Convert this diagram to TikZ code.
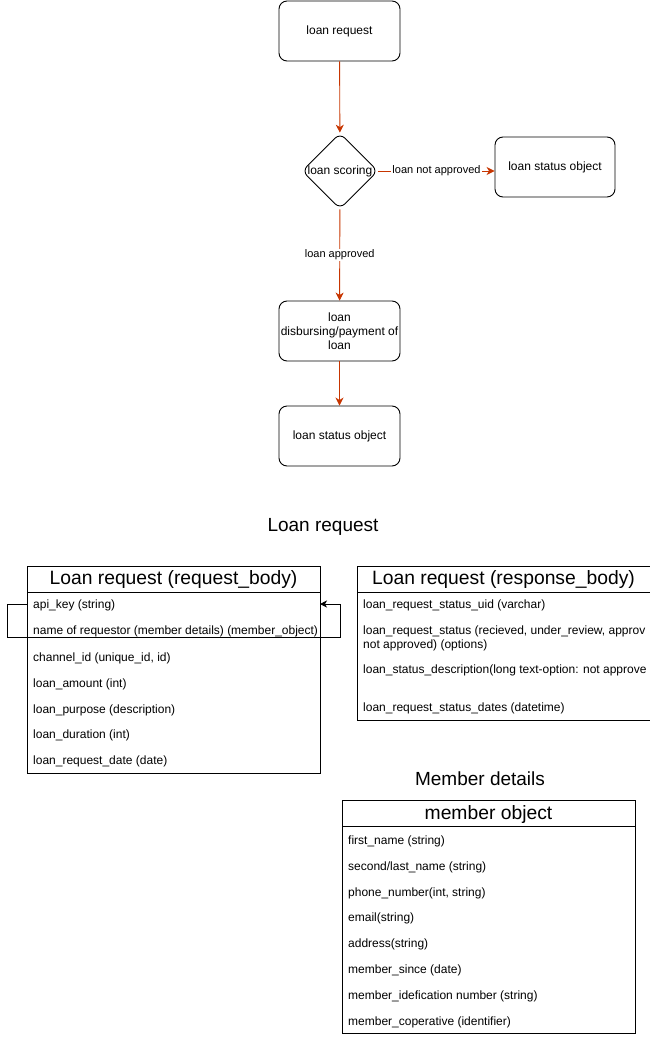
\documentclass[tikz,border=0pt]{standalone}
\usepackage{fontspec}
\setmainfont{Liberation Sans}
\usetikzlibrary{arrows.meta,shapes.geometric}
\definecolor{flow}{RGB}{199,53,0}
\tikzset{
  procbox/.style={draw,rounded corners=8pt,minimum width=121pt,minimum height=60pt,align=center,font=\fontsize{12}{14}\selectfont,line width=0.9pt,inner sep=1pt},
  flowarrow/.style={draw=flow,line width=0.9pt,-{Stealth[length=8pt,width=8pt,inset=2.5pt]}},
  elabel/.style={fill=white,inner sep=1pt,font=\fontsize{11}{13}\selectfont},
  tblbox/.style={draw,line width=0.9pt},
  tblhead/.style={font=\fontsize{19.3}{21}\selectfont,inner sep=0pt},
  row/.style={anchor=west,inner sep=0pt,font=\fontsize{12}{14}\selectfont},
  title/.style={font=\fontsize{19}{22}\selectfont,inner sep=0pt}
}
\begin{document}
\begin{tikzpicture}[x=1pt,y=-1pt]
\useasboundingbox (0,0) rectangle (650,1038);
% flowchart
\node[procbox] (req) at (339.5,31) {loan request};
\node[draw,diamond,rounded corners=7pt,minimum width=76pt,minimum height=76pt,inner sep=0pt,line width=0.9pt,font=\fontsize{12}{14}\selectfont] (score) at (340,171) {loan scoring};
\node[procbox,minimum width=120pt] (st1) at (555,167) {loan status object};
\node[procbox] (disb) at (339.5,331) {loan\\disbursing/payment of\\loan};
\node[procbox] (st2) at (339.5,436) {loan status object};
\draw[flowarrow] (req) -- (score);
\draw[flowarrow] (score.east) -- node[elabel]{loan not approved} (st1.west |- score.east);
\draw[flowarrow] (score) -- node[elabel,pos=0.5]{loan approved} (disb);
\draw[flowarrow] (disb) -- (st2);
% titles
\node[title] (t1) at (323,527) {Loan request};
\node[title] (t2) at (480,779) {Member details};
% request body table
\draw[tblbox] (27,566) rectangle (320,773);
\draw[line width=0.9pt] (27,592) -- (320,592);
\node[tblhead] (rqh) at (173.5,579.5) {Loan request (request\_body)};
\node[row] (r1) at (33,605) {api\_key (string)};
\node[row] (r2) at (33,631) {name of requestor (member details) (member\_object)};
\node[row] (r3) at (33,658) {channel\_id (unique\_id, id)};
\node[row] (r4) at (33,684) {loan\_amount (int)};
\node[row] (r5) at (33,710) {loan\_purpose (description)};
\node[row] (r6) at (33,735) {loan\_duration (int)};
\node[row] (r7) at (33,761) {loan\_request\_date (date)};
\coordinate (la) at (7,604);
\coordinate (lb) at (7,637);
\coordinate (rb) at (340,637);
\coordinate (ra) at (340,604);
\coordinate (tip) at (320,604);
\draw[line width=0.9pt,-{Stealth[length=7pt,width=7pt,inset=2pt]}] (27,604) -- (la) -- (lb) -- (rb) -- (ra) -- (tip);
% response body table
\draw[tblbox] (357,566) rectangle (650,720);
\draw[line width=0.9pt] (357,592) -- (650,592);
\node[tblhead] (rsh) at (503.5,579.5) {Loan request (response\_body)};
\node[row] (s1) at (363,605) {loan\_request\_status\_uid (varchar)};
\node[row] (s2) at (363,631) {loan\_request\_status (recieved, under\_review, approv};
\node[row] (s2b) at (363,645) {not approved) (options)};
\node[row] (s3) at (363,670) {loan\_status\_description(long text-option: not approve};
\node[row] (s4) at (363,708) {loan\_request\_status\_dates (datetime)};
% member object table
\draw[tblbox] (342,800) rectangle (635,1033);
\draw[line width=0.9pt] (342,826) -- (635,826);
\node[tblhead] (mh) at (488.5,814.5) {member object};
\node[row] (m1) at (348,841) {first\_name (string)};
\node[row] (m2) at (348,867) {second/last\_name (string)};
\node[row] (m3) at (348,893) {phone\_number(int, string)};
\node[row] (m4) at (348,918) {email(string)};
\node[row] (m5) at (348,944) {address(string)};
\node[row] (m6) at (348,970) {member\_since (date)};
\node[row] (m7) at (348,996) {member\_idefication number (string)};
\node[row] (m8) at (348,1022) {member\_coperative (identifier)};
\end{tikzpicture}
\end{document}
